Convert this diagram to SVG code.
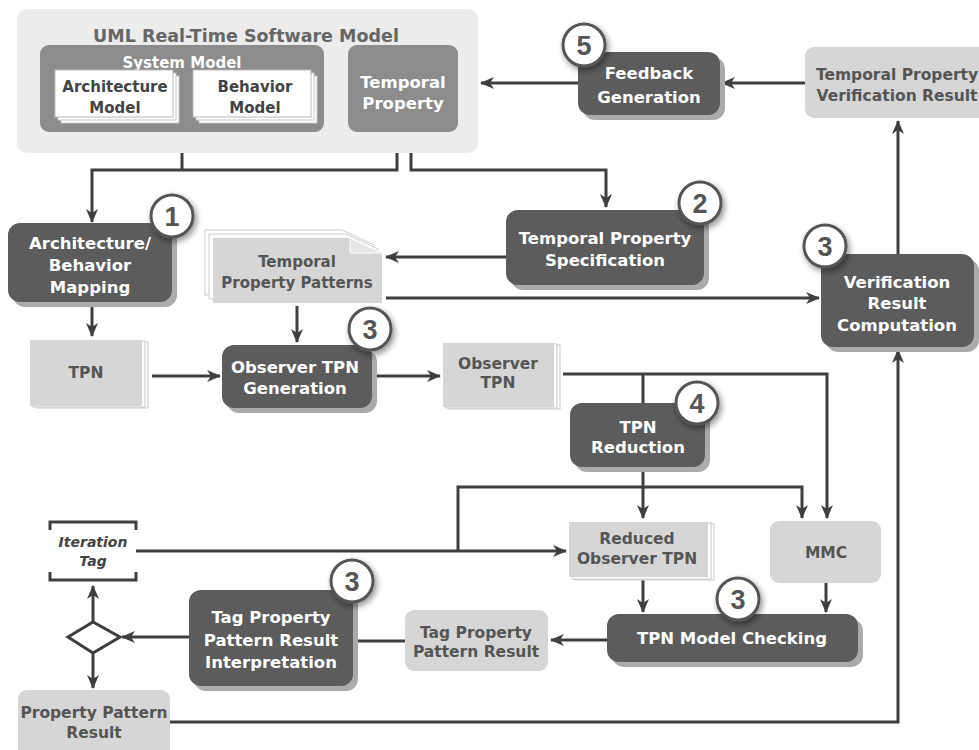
<svg xmlns="http://www.w3.org/2000/svg" width="979" height="750" viewBox="0 0 979 750">
<style>
text{font-family:"DejaVu Sans","Liberation Sans",sans-serif;font-weight:bold;text-anchor:middle}
.dk{fill:#5c5c5c}
.sh{fill:#ababab}
.wt{fill:#fff;font-size:16.5px}
.lg{fill:#d6d6d6}
.gt{fill:#555;font-size:15.5px}
.md{fill:#8c8c8c}
.ln{fill:none;stroke:#3f3f3f;stroke-width:3}
.ar{marker-end:url(#ah)}
.bc{fill:#fff;stroke:#555;stroke-width:3}
.bt{font-family:"Liberation Sans",Arial,sans-serif;font-size:27px;fill:#555}
.sheet{fill:#fff;stroke:#c8c8c8;stroke-width:1}
</style>
<defs>
<marker id="ah" viewBox="0 0 14 12" refX="13" refY="6" markerWidth="14" markerHeight="12" markerUnits="userSpaceOnUse" orient="auto">
<path d="M0,0 L14,6 L0,12 L4,6 Z" fill="#3f3f3f"/>
</marker>
<filter id="bs" x="-50%" y="-50%" width="200%" height="200%">
<feGaussianBlur in="SourceAlpha" stdDeviation="3"/>
<feOffset dx="2" dy="3" result="b"/>
<feComponentTransfer><feFuncA type="linear" slope="0.45"/></feComponentTransfer>
<feMerge><feMergeNode/><feMergeNode in="SourceGraphic"/></feMerge>
</filter>
</defs>

<g id="connectors">
<path class="ln ar" d="M805,83 H722"/>
<path class="ln ar" d="M578,83 H481"/>
<path class="ln ar" d="M397,132 V170 H92 V222"/>
<path class="ln" d="M182,132 V170"/>
<path class="ln ar" d="M411,132 V170 H606 V207"/>
<path class="ln ar" d="M506,257 H386"/>
<path class="ln ar" d="M386,298 H819"/>
<path class="ln ar" d="M898,254 V121"/>
<path class="ln ar" d="M92,302 V336"/>
<path class="ln ar" d="M297,306 V342"/>
<path class="ln ar" d="M152,376 H220"/>
<path class="ln ar" d="M372,376 H440"/>
<path class="ln ar" d="M563,374 H827 V518"/>
<path class="ln" d="M643,374 V403"/>
<path class="ln ar" d="M643,467 V518"/>
<path class="ln ar" d="M458,551 V487 H802 V518"/>
<path class="ln ar" d="M136,551 H566"/>
<path class="ln ar" d="M643,577 V612"/>
<path class="ln ar" d="M826,583 V612"/>
<path class="ln ar" d="M607,640 H551"/>
<path class="ln" d="M405,641 H353"/>
<path class="ln ar" d="M190,637 H122"/>
<path class="ln ar" d="M93,622 V586"/>
<path class="ln ar" d="M93,653 V688"/>
<path class="ln ar" d="M170,722 H898 V350"/>
</g>

<g id="uml-model">
<rect x="17" y="9" width="461" height="144" rx="10" fill="#ececec"/>
<text x="246" y="42" style="font-size:17.5px;fill:#666">UML Real-Time Software Model</text>
</g>

<g id="system-model">
<rect class="md" x="40" y="45" width="284" height="87" rx="9"/>
<text x="182" y="68" class="wt" style="font-size:15px">System Model</text>
</g>

<g id="architecture-model">
<rect class="sheet" x="61" y="76" width="118" height="47"/>
<rect class="sheet" x="58" y="73" width="118" height="47"/>
<rect x="55" y="70" width="118" height="47" fill="#fff" stroke="#bbb" stroke-width="1"/>
<text x="115" y="92" class="gt" style="fill:#444;font-size:15px">Architecture</text>
<text x="115" y="113" class="gt" style="fill:#444;font-size:15px">Model</text>
</g>

<g id="behavior-model">
<rect class="sheet" x="199" y="76" width="118" height="47"/>
<rect class="sheet" x="196" y="73" width="118" height="47"/>
<rect x="193" y="70" width="118" height="47" fill="#fff" stroke="#bbb" stroke-width="1"/>
<text x="255" y="92" class="gt" style="fill:#444;font-size:15px">Behavior</text>
<text x="255" y="113" class="gt" style="fill:#444;font-size:15px">Model</text>
</g>

<g id="temporal-property">
<rect class="md" x="348" y="45" width="110" height="87" rx="9"/>
<text x="403" y="88" class="wt">Temporal</text>
<text x="403" y="109" class="wt">Property</text>
</g>

<g id="feedback-generation">
<rect class="sh" x="583" y="57" width="142" height="63" rx="12"/>
<rect class="dk" x="578" y="52" width="142" height="63" rx="12"/>
<text x="649" y="79" class="wt">Feedback</text>
<text x="649" y="103" class="wt">Generation</text>
<circle class="bc" cx="584" cy="45" r="21" filter="url(#bs)"/>
<text x="584" y="55" class="bt">5</text>
</g>

<g id="verification-result">
<rect class="lg" x="805" y="47" width="190" height="71" rx="9"/>
<text x="897" y="80" class="gt">Temporal Property</text>
<text x="897" y="101" class="gt">Verification Result</text>
</g>

<g id="arch-behavior-mapping">
<rect class="sh" x="13" y="228" width="164" height="79" rx="12"/>
<rect class="dk" x="8" y="223" width="164" height="79" rx="12"/>
<text x="90" y="249" class="wt">Architecture/</text>
<text x="90" y="271" class="wt">Behavior</text>
<text x="90" y="293" class="wt">Mapping</text>
<circle class="bc" cx="172" cy="216" r="21" filter="url(#bs)"/>
<text x="172" y="226" class="bt">1</text>
</g>

<g id="temporal-property-specification">
<rect class="sh" x="511" y="215" width="198" height="75" rx="12"/>
<rect class="dk" x="506" y="210" width="198" height="75" rx="12"/>
<text x="605" y="244" class="wt">Temporal Property</text>
<text x="605" y="266" class="wt">Specification</text>
<circle class="bc" cx="700" cy="203" r="21" filter="url(#bs)"/>
<text x="700" y="213" class="bt">2</text>
</g>

<g id="temporal-property-patterns">
<path d="M205,230 L342,230 L374,245 L374,295 L205,295 Z" fill="#fff" stroke="#ccc" stroke-width="1"/>
<path d="M209,234 L346,234 L378,249 L378,299 L209,299 Z" fill="#fff" stroke="#ccc" stroke-width="1"/>
<path class="lg" d="M213,238 L350,238 L382,253 L382,303 L213,303 Z"/>
<path d="M350,238 L350,253 L382,253 Z" fill="#e6e6e6" stroke="#fff" stroke-width="1"/>
<text x="297" y="267" class="gt" style="font-size:15px">Temporal</text>
<text x="297" y="288" class="gt" style="font-size:15px">Property Patterns</text>
</g>

<g id="verification-result-computation">
<rect class="sh" x="826" y="259" width="153" height="93" rx="12"/>
<rect class="dk" x="821" y="254" width="153" height="93" rx="12"/>
<text x="897" y="288" class="wt">Verification</text>
<text x="897" y="309" class="wt">Result</text>
<text x="897" y="331" class="wt">Computation</text>
<circle class="bc" cx="825" cy="246" r="21" filter="url(#bs)"/>
<text x="825" y="256" class="bt">3</text>
</g>

<g id="tpn">
<rect class="sheet" x="36" y="342" width="112" height="66"/>
<rect class="sheet" x="33" y="341" width="112" height="66"/>
<rect class="lg" x="30" y="340" width="112" height="66"/>
<text x="86" y="378" class="gt">TPN</text>
</g>

<g id="observer-tpn-generation">
<rect class="sh" x="227" y="350" width="150" height="63" rx="12"/>
<rect class="dk" x="222" y="345" width="150" height="63" rx="12"/>
<text x="295" y="373" class="wt">Observer TPN</text>
<text x="295" y="394" class="wt">Generation</text>
<circle class="bc" cx="370" cy="329" r="21" filter="url(#bs)"/>
<text x="370" y="339" class="bt">3</text>
</g>

<g id="observer-tpn">
<rect class="sheet" x="449" y="345" width="111" height="64"/>
<rect class="sheet" x="446" y="344" width="111" height="64"/>
<rect class="lg" x="443" y="343" width="111" height="64"/>
<text x="498" y="369" class="gt">Observer</text>
<text x="498" y="388" class="gt">TPN</text>
</g>

<g id="tpn-reduction">
<rect class="sh" x="575" y="408" width="135" height="64" rx="12"/>
<rect class="dk" x="570" y="403" width="135" height="64" rx="12"/>
<text x="638" y="433" class="wt">TPN</text>
<text x="638" y="453" class="wt">Reduction</text>
<circle class="bc" cx="697" cy="403" r="21" filter="url(#bs)"/>
<text x="697" y="413" class="bt">4</text>
</g>

<g id="reduced-observer-tpn">
<rect class="sheet" x="575" y="524" width="139" height="56"/>
<rect class="sheet" x="572" y="523" width="139" height="56"/>
<rect class="lg" x="569" y="522" width="139" height="55"/>
<text x="637" y="544" class="gt">Reduced</text>
<text x="637" y="564" class="gt">Observer TPN</text>
</g>

<g id="mmc">
<rect class="lg" x="770" y="521" width="111" height="62" rx="9"/>
<text x="826" y="558" class="gt">MMC</text>
</g>

<g id="iteration-tag">
<path class="ln" d="M50,530 V522 H136 V530 M50,572 V580 H136 V572"/>
<text x="93" y="547" style="font-size:14px;fill:#444;font-style:italic">Iteration</text>
<text x="93" y="566" style="font-size:14px;fill:#444;font-style:italic">Tag</text>
</g>

<g id="decision">
<path d="M68,637 L93,622 L120,637 L93,653 Z" fill="#fff" stroke="#3f3f3f" stroke-width="3" stroke-linejoin="miter"/>
</g>

<g id="tag-result-interpretation">
<rect class="sh" x="194" y="595" width="164" height="96" rx="12"/>
<rect class="dk" x="189" y="590" width="164" height="96" rx="12"/>
<text x="271" y="623" class="wt">Tag Property</text>
<text x="271" y="646" class="wt">Pattern Result</text>
<text x="271" y="668" class="wt">Interpretation</text>
<circle class="bc" cx="352" cy="581" r="21" filter="url(#bs)"/>
<text x="352" y="591" class="bt">3</text>
</g>

<g id="tag-property-pattern-result">
<rect class="lg" x="405" y="610" width="143" height="61" rx="9"/>
<text x="476" y="638" class="gt">Tag Property</text>
<text x="476" y="657" class="gt">Pattern Result</text>
</g>

<g id="tpn-model-checking">
<rect class="sh" x="612" y="619" width="251" height="48" rx="12"/>
<rect class="dk" x="607" y="614" width="251" height="48" rx="12"/>
<text x="732" y="644" class="wt">TPN Model Checking</text>
<circle class="bc" cx="738" cy="599" r="21" filter="url(#bs)"/>
<text x="738" y="609" class="bt">3</text>
</g>

<g id="property-pattern-result">
<rect class="lg" x="18" y="690" width="152" height="70" rx="9"/>
<text x="94" y="718" class="gt">Property Pattern</text>
<text x="94" y="738" class="gt">Result</text>
</g>
</svg>
